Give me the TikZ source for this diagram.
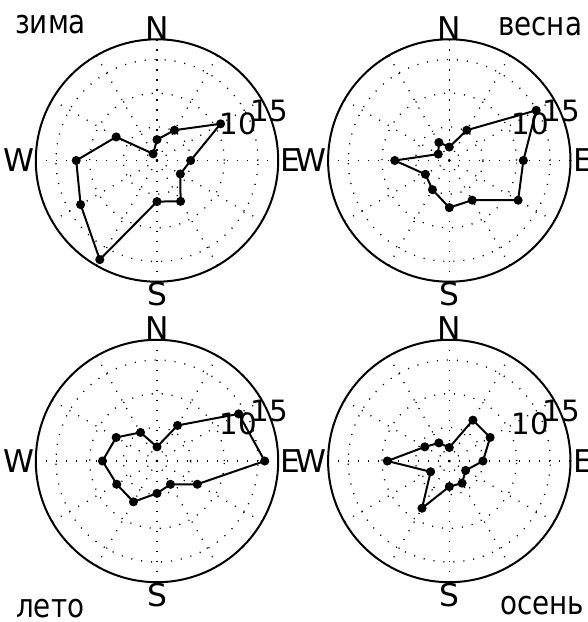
\documentclass[tikz,border=0pt]{standalone}
\usepackage{fontspec}
\setmainfont{DejaVu Sans}
\begin{document}
\begin{tikzpicture}[x=0.75pt,y=0.75pt,yscale=-1,xscale=1,
  gridline/.style={black,line width=1pt,dash pattern=on 0.8pt off 6.7pt},
  frame/.style={black,line width=1.5pt},
  dataline/.style={black,line width=1.5pt,mark=*,mark size=2.6pt},
  compass/.style={inner sep=0pt,font=\fontsize{23.5}{26}\selectfont},
  rlabel/.style={inner sep=0pt,anchor=south west,font=\fontsize{22}{24}\selectfont},
  season/.style={inner sep=0pt,anchor=base west,xscale=0.85,font=\fontsize{24.5}{27}\selectfont}]
\useasboundingbox (0,0) rectangle (587,622);

% winter
\begin{scope}[shift={(157,160.5)},x=5.05pt,y=5.05pt,yscale=-1]
\foreach \r in {5,10,15} \draw[gridline] (0,0) circle (\r);
\foreach \a in {0,30,...,330} \draw[gridline] (0,0) -- (\a:18);
\draw[frame] (0,0) circle (18);
\draw[dataline] plot coordinates {(0:5.0) (30:10.9) (60:5.2) (90:3.1) (120:1.15) (150:7.0) (180:12.0) (210:13.1) (240:17.0) (270:6.1) (300:7.0) (330:4.0)} -- cycle;
\node[compass,anchor=south] (zimaN) at (90:18) {N};
\node[compass,anchor=north] (zimaS) at (270:18.1) {S};
\node[compass,anchor=east] (zimaW) at (180:18.15) {W};
\node[compass,anchor=west] (zimaE) at (0:18.35) {E};
\node[rlabel] (zima10) at (22.5:10) {10};
\node[rlabel] (zima15) at (22.5:15) {15};
\end{scope}

% spring
\begin{scope}[shift={(449.3,160.5)},x=5.05pt,y=5.05pt,yscale=-1]
\foreach \r in {5,10,15} \draw[gridline] (0,0) circle (\r);
\foreach \a in {0,30,...,330} \draw[gridline] (0,0) -- (\a:18);
\draw[frame] (0,0) circle (18);
\draw[dataline] plot coordinates {(0:11.0) (30:14.9) (60:5.2) (90:2.0) (120:3.1) (150:1.9) (180:8.1) (210:4.1) (240:5.0) (270:7.0) (300:6.8) (330:11.8)} -- cycle;
\node[compass,anchor=south] (vesnaN) at (90:18) {N};
\node[compass,anchor=north] (vesnaS) at (270:18.1) {S};
\node[compass,anchor=east] (vesnaW) at (180:18.15) {W};
\node[compass,anchor=west] (vesnaE) at (0:18.35) {E};
\node[rlabel] (vesna10) at (22.5:10) {10};
\node[rlabel] (vesna15) at (22.5:15) {15};
\end{scope}

% summer
\begin{scope}[shift={(157,461)},x=5.05pt,y=5.05pt,yscale=-1]
\foreach \r in {5,10,15} \draw[gridline] (0,0) circle (\r);
\foreach \a in {0,30,...,330} \draw[gridline] (0,0) -- (\a:18);
\draw[frame] (0,0) circle (18);
\draw[dataline] plot coordinates {(0:16.0) (30:14.0) (60:6.1) (90:2.1) (120:4.9) (150:7.0) (180:8.1) (210:6.9) (240:7.0) (270:4.8) (300:4.0) (330:6.9)} -- cycle;
\node[compass,anchor=south] (letoN) at (90:18) {N};
\node[compass,anchor=north] (letoS) at (270:18.1) {S};
\node[compass,anchor=east] (letoW) at (180:18.15) {W};
\node[compass,anchor=west] (letoE) at (0:18.35) {E};
\node[rlabel] (leto10) at (22.5:10) {10};
\node[rlabel] (leto15) at (22.5:15) {15};
\end{scope}

% autumn
\begin{scope}[shift={(449.3,461)},x=5.05pt,y=5.05pt,yscale=-1]
\foreach \r in {5,10,15} \draw[gridline] (0,0) circle (\r);
\foreach \a in {0,30,...,330} \draw[gridline] (0,0) -- (\a:18);
\draw[frame] (0,0) circle (18);
\draw[dataline] plot coordinates {(0:5.0) (30:7.0) (60:7.0) (90:2.0) (120:3.1) (150:4.2) (180:9.2) (210:3.2) (240:8.1) (270:3.8) (300:3.8) (330:2.8)} -- cycle;
\node[compass,anchor=south] (osenN) at (90:18) {N};
\node[compass,anchor=north] (osenS) at (270:18.1) {S};
\node[compass,anchor=east] (osenW) at (180:18.15) {W};
\node[compass,anchor=west] (osenE) at (0:18.35) {E};
\node[rlabel] (osen10) at (22.5:10) {10};
\node[rlabel] (osen15) at (22.5:15) {15};
\end{scope}

% season titles
\node[season] (zima) at (15,33) {зима};
\node[season] (vesna) at (498,35) {весна};
\node[season] (leto) at (16,617) {лето};
\node[season] (osen) at (500,614) {осень};

\end{tikzpicture}
\end{document}
